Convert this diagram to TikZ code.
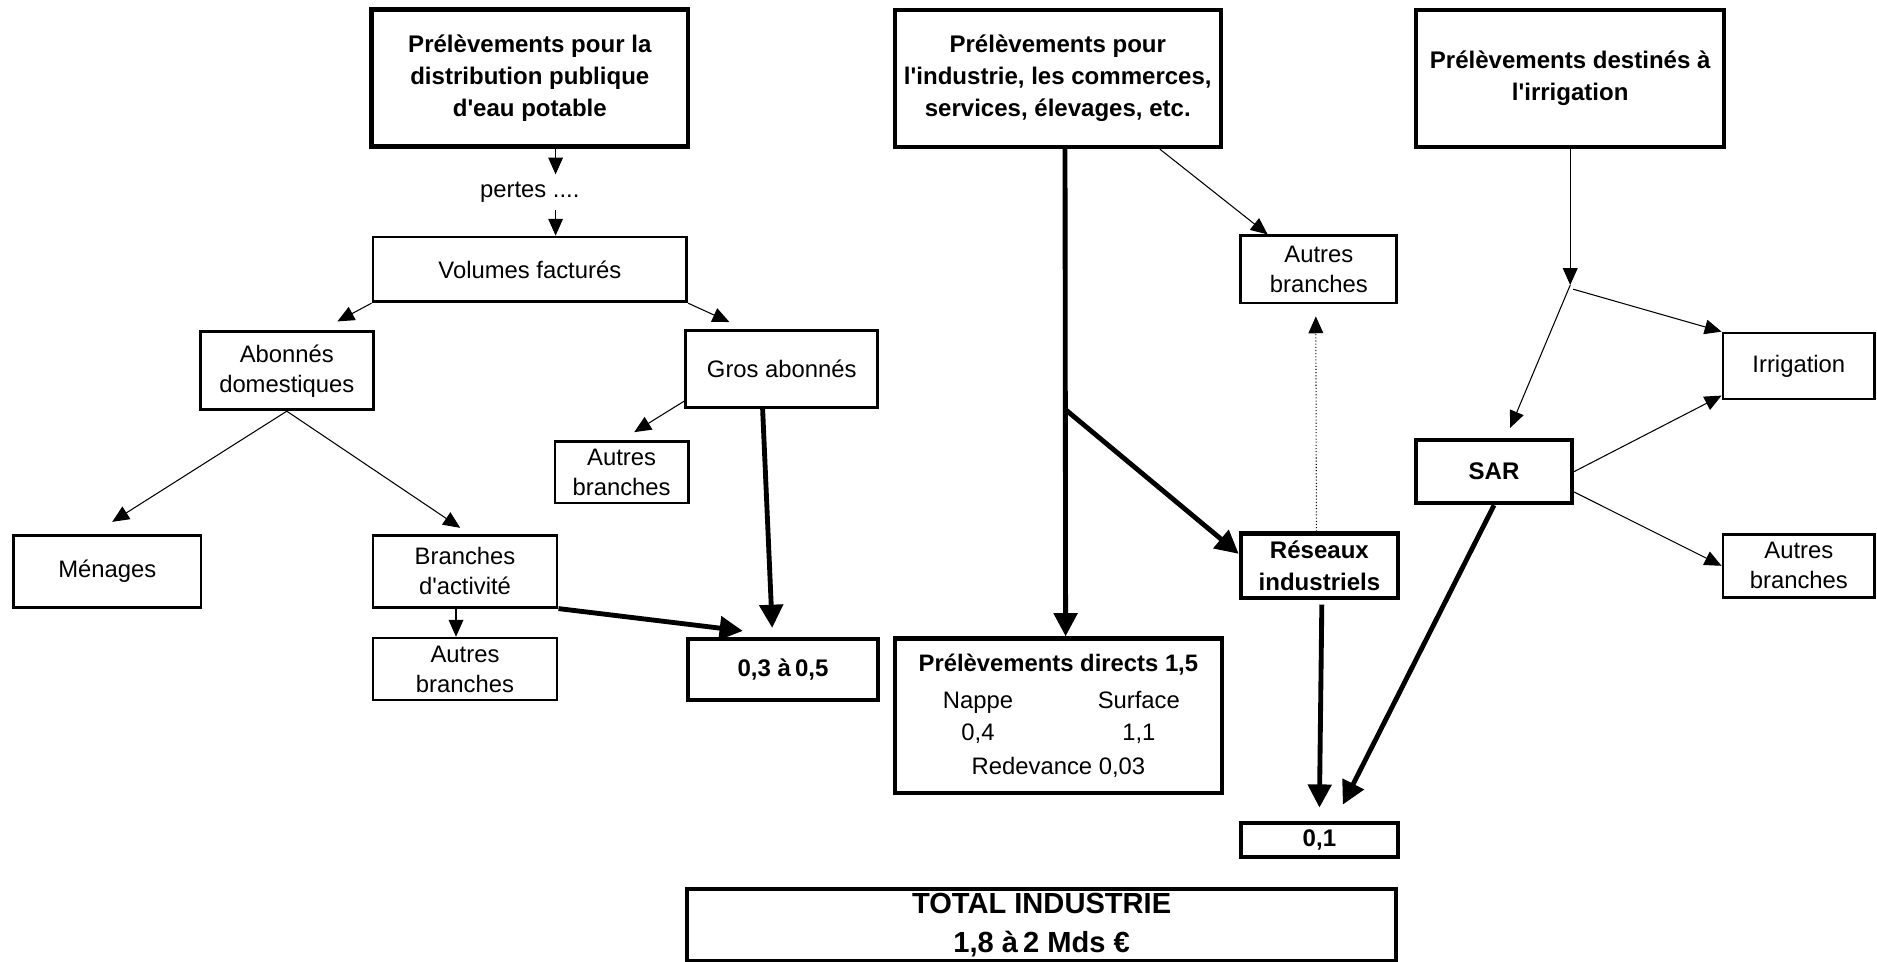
\documentclass[tikz,border=0pt]{standalone}
\usepackage{fontspec}
\setmainfont{Liberation Sans}
\usetikzlibrary{arrows.meta, calc}

\begin{document}
\begin{tikzpicture}[
  >={Triangle[length=8pt, width=7pt]},
  every node/.style={font=\fontsize{11.3}{14.2}\selectfont},
  box/.style={draw, line width=1.3pt, align=center, inner sep=1pt},
  strong/.style={box, line width=2pt, font=\fontsize{11.4}{15.2}\selectfont\bfseries},
  link/.style={->, line width=0.5pt},
  hint/.style={link, densely dotted},
  flow/.style={-{Triangle[length=11pt, width=11pt]}, line width=2.3pt}
]
\useasboundingbox (0,0) rectangle (31.283,-16.033);

% Top row: the three kinds of withdrawals
\node[strong, minimum width=5.28cm, minimum height=2.28cm] (topA) at (8.83, -1.30) {Prélèvements pour la\\distribution publique\\d\textquotesingle eau potable};
\node[strong, minimum width=5.43cm, minimum height=2.28cm] (topB) at (17.63, -1.31) {Prélèvements pour\\l\textquotesingle industrie, les commerces,\\services, élevages, etc.};
\node[strong, minimum width=5.13cm, minimum height=2.28cm] (topC) at (26.17, -1.31) {Prélèvements destinés à\\l\textquotesingle irrigation};

% Left branch: public distribution
\node (pertes) at (8.83, -3.2) {pertes ....};
\node[box, minimum width=5.23cm, minimum height=1.08cm] (volumes) at (8.83, -4.49) {Volumes facturés};
\node[box, minimum width=2.88cm, minimum height=1.3cm] (abonnes) at (4.78, -6.18) {Abonnés\\domestiques};
\node[box, minimum width=3.2cm, minimum height=1.28cm] (gros) at (13.03, -6.15) {Gros abonnés};
\node[box, minimum width=2.22cm, minimum height=1.03cm] (autresA) at (10.36, -7.87) {Autres\\branches};
\node[box, minimum width=3.12cm, minimum height=1.2cm] (menages) at (1.79, -9.52) {Ménages};
\node[box, minimum width=3.07cm, minimum height=1.2cm] (branches) at (7.75, -9.52) {Branches\\d\textquotesingle activité};
\node[box, minimum width=3.07cm, minimum height=1.03cm] (autresB) at (7.75, -11.15) {Autres\\branches};
\node[strong, minimum width=3.17cm, minimum height=1.02cm] (val1) at (13.05, -11.16) {0,3 à\,0,5};

% Middle branch: industry
\node[strong, font=\fontsize{11.3}{15}\selectfont, minimum width=5.45cm, minimum height=2.58cm] (directs) at (17.64, -11.93) {\textbf{Prélèvements directs 1,5}\\[2.6pt]
  \makebox[2.68cm]{Nappe}\makebox[2.68cm]{Surface}\\
  \makebox[2.68cm]{0,4}\makebox[2.68cm]{1,1}\\[1.5pt]
  Redevance 0,03};
\node[box, minimum width=2.6cm, minimum height=1.12cm] (autresC) at (21.98, -4.49) {Autres\\branches};
\node[strong, minimum width=2.62cm, minimum height=1.08cm] (reseaux) at (21.99, -9.43) {Réseaux\\industriels};
\node[strong, minimum width=2.62cm, minimum height=0.57cm] (val2) at (21.99, -14.0) {0,1};

% Right branch: irrigation
\node[strong, minimum width=2.6cm, minimum height=1.05cm] (sar) at (24.9, -7.86) {SAR};
\node[box, minimum width=2.53cm, minimum height=1.1cm] (irrig) at (29.98, -6.1) {Irrigation};
\node[box, minimum width=2.53cm, minimum height=1.05cm] (autresD) at (29.98, -9.43) {Autres\\branches};

% Total
\node[strong, font=\fontsize{13.8}{18.5}\selectfont\bfseries, minimum width=11.82cm, minimum height=1.2cm] (total) at (17.36, -15.42) {TOTAL INDUSTRIE\\1,8 à\,2 Mds €};

% Arrows left branch
\draw[link] ([xshift=0.43cm]topA.south) -- ([xshift=0.43cm]pertes.north);
\draw[link] ([xshift=0.43cm]pertes.south) -- ([xshift=0.43cm]volumes.north);
\draw[link] (volumes.south west) -- ($(abonnes.north east)+(-0.62,0.15)$);
\draw[link] (volumes.south east) -- ($(gros.north west)+(0.75,0.12)$);
\draw[link] ($(gros.south west)+(0,0.13)$) -- ($(autresA.north)+(0.21,0.13)$);
\draw[link] (abonnes.south) -- ($(menages.north)+(0.08,0.2)$);
\draw[link] (abonnes.south) -- ($(branches.north)+(-0.08,0.1)$);
\draw[link] ([xshift=-0.15cm]branches.south) -- ([xshift=-0.15cm]autresB.north);
\draw[flow] (branches.south east) -- ($(val1.north west)+(0.95,0.1)$);
\draw[flow] ([xshift=-0.32cm]gros.south) -- ($(val1.north)+(-0.18,0.15)$);

% Arrows middle branch
\coordinate (fork) at (17.75, -6.82);
\draw[flow] ([xshift=0.12cm]topB.south) -- ([xshift=0.12cm]directs.north);
\draw[flow] (fork) -- ($(reseaux.west)+(0,0.2)$);
\draw[link] ($(topB.south)+(1.7,0)$) -- ($(autresC.north west)+(0.47,0)$);
\draw[hint] ([xshift=-0.05cm]reseaux.north) -- ($(autresC.south)+(-0.05,-0.2)$);
\draw[flow] ($(reseaux.south)+(0.04,-0.07)$) -- ($(val2.north)+(0,0.22)$);

% Arrows right branch
\coordinate (split) at (26.17, -4.75);
\draw[link] (topC.south) -- (split);
\draw[link] (split) -- ($(sar.north)+(0.27,0.17)$);
\draw[link] ($(split)+(0.05,-0.07)$) -- (irrig.north west);
\draw[link] (sar.east) -- ($(irrig.south west)+(0,0.08)$);
\draw[link] ($(sar.south east)+(0,0.22)$) -- (autresD.west);
\draw[flow] (sar.south) -- ($(val2.north)+(0.39,0.27)$);

\end{tikzpicture}
\end{document}
